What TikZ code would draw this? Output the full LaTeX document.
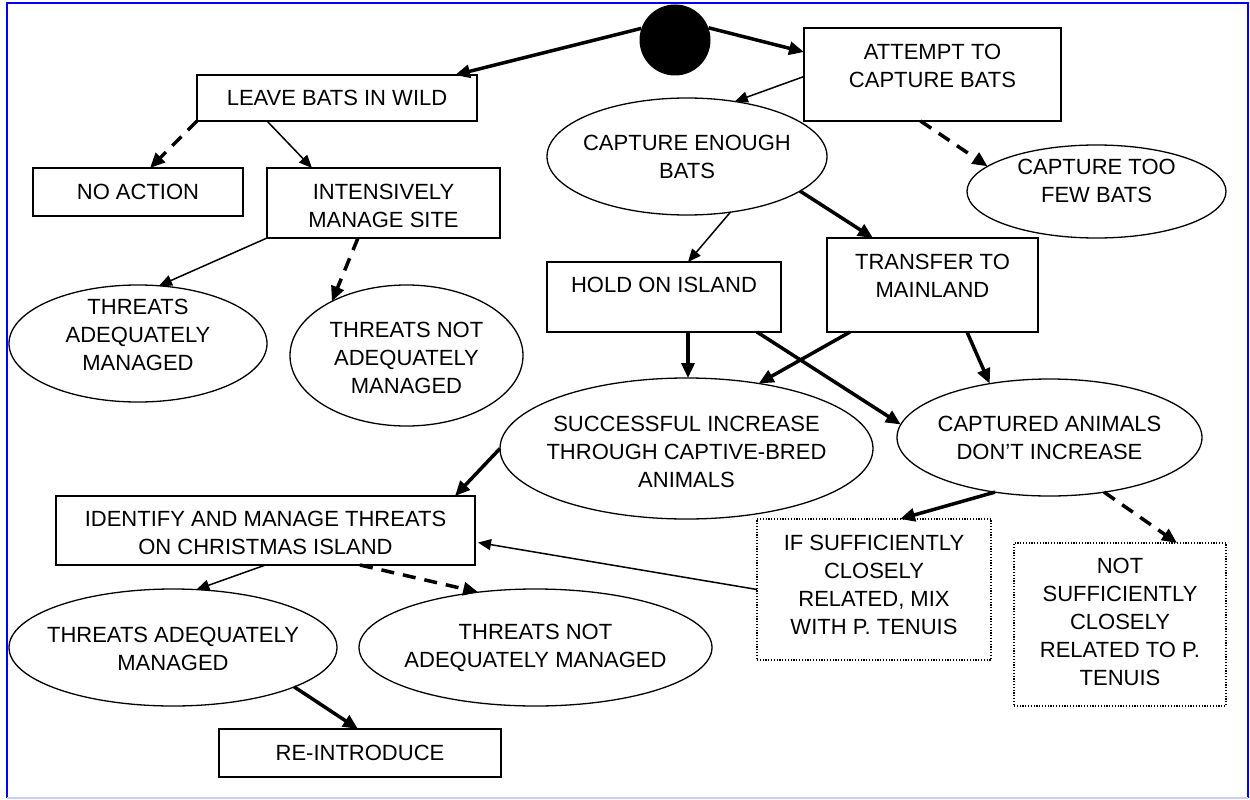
\documentclass[tikz,border=0pt]{standalone}
\usepackage{fontspec}
\setmainfont{Liberation Sans}
\usetikzlibrary{arrows.meta,shapes.geometric}
\definecolor{frameblue}{RGB}{0,0,255}
\definecolor{framelav}{RGB}{205,205,245}
\tikzset{
  box/.style={draw, line width=1.3pt, inner sep=0pt, outer sep=0pt},
  dotbox/.style={draw, line width=1.2pt, dash pattern=on 1.2pt off 1.6pt, inner sep=0pt, outer sep=0pt},
  oval/.style={ellipse, draw, line width=1.3pt, inner sep=0pt, outer sep=0pt},
  txt/.style={align=center, font=\fontsize{22}{28}\selectfont, inner sep=0pt},
  arrthin/.style={line width=1.5pt, -{Triangle[length=13pt,width=11pt]}},
  arrthick/.style={line width=3.5pt, -{Triangle[length=15pt,width=13pt]}},
  arrdash/.style={arrthick, dash pattern=on 13pt off 9pt},
}
\begin{document}
\begin{tikzpicture}[x=1pt,y=-1pt]
\useasboundingbox (0,0) rectangle (1250,800);
% frame
\draw[frameblue, line width=2.5pt] (7,798) -- (7,3) -- (1248,3) -- (1248,798);
\draw[framelav, line width=2pt] (7,798) -- (1248,798);

% start circle
\node[circle, fill=black, minimum size=71pt, inner sep=0pt] (start) at (675,40) {};

% rectangles
\node[box, minimum width=280pt, minimum height=46pt] (leave) at (337,98) {};
\node[box, minimum width=210pt, minimum height=48pt] (noact) at (138,192) {};
\node[box, minimum width=233pt, minimum height=70pt] (intens) at (383.5,203) {};
\node[box, minimum width=257pt, minimum height=93pt] (attempt) at (932.5,74.5) {};
\node[box, minimum width=234pt, minimum height=70pt] (hold) at (664,297) {};
\node[box, minimum width=211pt, minimum height=94pt] (transfer) at (932.5,285) {};
\node[box, minimum width=419pt, minimum height=69pt] (identify) at (265.5,530.5) {};
\node[box, minimum width=282pt, minimum height=48pt] (reintro) at (360,753) {};
\node[dotbox, minimum width=234pt, minimum height=141pt] (ifsuff) at (874,589.5) {};
\node[dotbox, minimum width=212pt, minimum height=163pt] (notsuff) at (1120,624.5) {};

% ellipses
\node[oval, minimum width=258pt, minimum height=117pt] (threatsA) at (138,343.5) {};
\node[oval, minimum width=233pt, minimum height=141pt] (threatsN) at (406.5,355.5) {};
\node[oval, minimum width=280pt, minimum height=117pt] (capenough) at (687,156.5) {};
\node[oval, minimum width=259pt, minimum height=93pt] (captoofew) at (1096.5,191.5) {};
\node[oval, minimum width=373pt, minimum height=141pt] (success) at (686.5,448.5) {};
\node[oval, minimum width=305pt, minimum height=117pt] (captured) at (1049.5,437.5) {};
\node[oval, minimum width=328pt, minimum height=117pt] (threatsAtwo) at (173,647.5) {};
\node[oval, minimum width=353pt, minimum height=117pt] (threatsNtwo) at (535.5,647.5) {};

% texts
\node[txt] (tleave) at (337,98) {LEAVE BATS IN WILD};
\node[txt] (tnoact) at (138,192) {NO ACTION};
\node[txt] (tintens) at (383.5,206) {INTENSIVELY\\MANAGE SITE};
\node[txt] (tattempt) at (932.5,66) {ATTEMPT TO\\CAPTURE BATS};
\node[txt] (thold) at (664,285) {HOLD ON ISLAND};
\node[txt] (ttransfer) at (932.5,276) {TRANSFER TO\\MAINLAND};
\node[txt] (tidentify) at (265.5,533) {IDENTIFY AND MANAGE THREATS\\ON CHRISTMAS ISLAND};
\node[txt] (treintro) at (360,753) {RE-INTRODUCE};
\node[txt] (tifsuff) at (874,584.5) {IF SUFFICIENTLY\\CLOSELY\\RELATED, MIX\\WITH P. TENUIS};
\node[txt] (tnotsuff) at (1120,621.5) {NOT\\SUFFICIENTLY\\CLOSELY\\RELATED TO P.\\TENUIS};
\node[txt] (tthreatsA) at (138,335) {THREATS\\ADEQUATELY\\MANAGED};
\node[txt] (tthreatsN) at (406.5,358) {THREATS NOT\\ADEQUATELY\\MANAGED};
\node[txt] (tcapenough) at (687,157) {CAPTURE ENOUGH\\BATS};
\node[txt] (tcaptoofew) at (1096.5,181) {CAPTURE TOO\\FEW BATS};
\node[txt] (tsuccess) at (686.5,452) {SUCCESSFUL INCREASE\\THROUGH CAPTIVE-BRED\\ANIMALS};
\node[txt] (tcaptured) at (1049.5,438) {CAPTURED ANIMALS\\DON’T INCREASE};
\node[txt] (tthreatsAtwo) at (173,648.5) {THREATS ADEQUATELY\\MANAGED};
\node[txt] (tthreatsNtwo) at (535.5,648) {THREATS NOT\\ADEQUATELY MANAGED};

% connectors
\draw[arrthick] (start.161) -- ([shift={(-22,0)}]leave.north east);
\draw[arrthick] (start.20) -- ([shift={(0,24)}]attempt.north west);
\draw[arrthin] ([shift={(0,2)}]attempt.west) -- (capenough.49);
\draw[arrdash] ([shift={(-12,0)}]attempt.south) -- (captoofew.167);
\draw[arrthin] (capenough.-52) -- ([shift={(24,0)}]hold.north);
\draw[arrthick] (capenough.-17) -- ([shift={(46,0)}]transfer.north west);
\draw[arrdash] (leave.south west) -- ([shift={(12,0)}]noact.north);
\draw[arrthin] ([shift={(70,0)}]leave.south west) -- ([shift={(45,0)}]intens.north west);
\draw[arrthin] (intens.south west) -- (threatsA.70);
\draw[arrdash] ([shift={(91,0)}]intens.south west) -- (threatsN.144);
\draw[arrthick] ([shift={(24,0)}]hold.south) -- ([shift={(24,0)}]hold.south |- success.north);
\draw[arrthick] ([shift={(-24,0)}]hold.south east) -- (captured.175);
\draw[arrthick] ([shift={(23,0)}]transfer.south west) -- (success.42);
\draw[arrthick] ([shift={(-71,0)}]transfer.south east) -- (captured.138);
\draw[arrthick] (success.west) -- ([shift={(-20,0)}]identify.north east);
\draw[arrthick] (captured.225) -- ([shift={(143,0)}]ifsuff.north west);
\draw[arrdash] (captured.-45) -- ([shift={(-49,0)}]notsuff.north east);
\draw[arrthin] (ifsuff.west) -- ([shift={(3,12)}]identify.east);
\draw[arrdash] ([shift={(94.5,0)}]identify.south) -- (threatsNtwo.136);
\draw[arrthin] (identify.south) -- (threatsAtwo.68);
\draw[arrthick] (threatsAtwo.-18) -- ([shift={(139,0)}]reintro.north west);
\end{tikzpicture}
\end{document}
